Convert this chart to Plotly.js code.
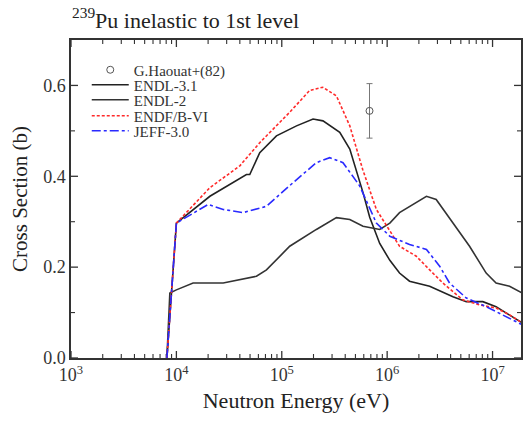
<!DOCTYPE html>
<html>
<head>
<meta charset="utf-8">
<script src="https://cdn.plot.ly/plotly-3.0.1.min.js"></script>
<style>
html,body{margin:0;padding:0;background:#fff;}
#chart{width:523px;height:425px;}
</style>
</head>
<body>
<div id="chart"></div>
<script>
// Experimental point
const expE = [6.8e5];
const expY = [0.544];
const expErr = [0.06];

// ENDL-3.1
const endl31E = [8.13e3, 1.0e4, 2.08e4, 3.45e4, 4.62e4, 4.97e4, 6.18e4, 8.9e4, 1.38e5, 1.98e5, 2.46e5, 3.55e5, 4.42e5, 5.9e5, 6.83e5, 8.5e5, 1.06e6, 1.31e6, 1.63e6, 2.53e6, 4.21e6, 5.64e6, 8.09e6, 1.08e7, 1.56e7, 1.92e7];
const endl31Y = [0, 0.297, 0.356, 0.386, 0.404, 0.404, 0.452, 0.489, 0.511, 0.526, 0.522, 0.497, 0.460, 0.364, 0.310, 0.252, 0.215, 0.187, 0.169, 0.158, 0.135, 0.124, 0.124, 0.113, 0.091, 0.077];

// ENDL-2
const endl2E = [8.13e3, 8.67e3, 1.0e4, 1.44e4, 2.78e4, 5.75e4, 7.16e4, 1.19e5, 2.13e5, 3.30e5, 4.42e5, 5.9e5, 8.5e5, 1.06e6, 1.31e6, 2.36e6, 2.92e6, 4.21e6, 6.05e6, 8.7e6, 1.08e7, 1.45e7, 1.92e7];
const endl2Y = [0, 0.143, 0.150, 0.165, 0.165, 0.180, 0.194, 0.246, 0.283, 0.309, 0.305, 0.290, 0.283, 0.297, 0.320, 0.356, 0.349, 0.297, 0.246, 0.187, 0.165, 0.158, 0.143];

// ENDF/B-VI
const endfE = [8.13e3, 1.0e4, 2.08e4, 4.0e4, 6.18e4, 1.19e5, 1.84e5, 2.45e5, 3.30e5, 4.42e5, 5.86e5, 7.9e5, 1.31e6, 1.89e6, 2.53e6, 3.38e6, 5.22e6, 7.53e6, 1.08e7, 1.45e7, 1.92e7];
const endfY = [0, 0.297, 0.375, 0.423, 0.474, 0.541, 0.589, 0.596, 0.577, 0.511, 0.415, 0.327, 0.246, 0.224, 0.194, 0.165, 0.128, 0.117, 0.110, 0.095, 0.077];

// JEFF-3.0
const jeffE = [8.13e3, 1.0e4, 2.0e4, 2.78e4, 4.3e4, 7.16e4, 1.28e5, 2.13e5, 2.85e5, 3.81e5, 5.48e5, 7.9e5, 1.06e6, 1.63e6, 2.36e6, 3.15e6, 3.91e6, 5.64e6, 8.7e6, 1.25e7, 1.92e7];
const jeffY = [0, 0.297, 0.338, 0.327, 0.320, 0.334, 0.386, 0.430, 0.441, 0.430, 0.379, 0.297, 0.268, 0.250, 0.239, 0.202, 0.165, 0.132, 0.113, 0.095, 0.073];

// ticks
const xMajor = [1e3, 1e4, 1e5, 1e6, 1e7];
const xMajorText = ['10<sup>3</sup>', '10<sup>4</sup>', '10<sup>5</sup>', '10<sup>6</sup>', '10<sup>7</sup>'];
const xMinor = [2e3,3e3,4e3,5e3,6e3,7e3,8e3,9e3,2e4,3e4,4e4,5e4,6e4,7e4,8e4,9e4,2e5,3e5,4e5,5e5,6e5,7e5,8e5,9e5,2e6,3e6,4e6,5e6,6e6,7e6,8e6,9e6];
const yMajor = [0, 0.2, 0.4, 0.6];
const yMajorText = ['0.0', '0.2', '0.4', '0.6'];
const yMinor = [0.1, 0.3, 0.5];

const serif = "'Liberation Serif', 'Times New Roman', 'DejaVu Serif', serif";
const axisColor = '#333';
const xRange = [3, 7.27], yRange = [0, 0.7];
const plotW = 450.5, plotH = 318;

// inside tick marks on all four sides, drawn as line segments through the axes' scales
function tickTrace(lenMajor, lenMinor, width, useMajor) {
  const xs = [], ys = [];
  const lenX = useMajor ? lenMajor : lenMinor;
  const dy = lenX * (yRange[1] - yRange[0]) / plotH;           // tick length in y units
  const dxLog = lenX * (xRange[1] - xRange[0]) / plotW;        // tick length in log10 x units
  (useMajor ? xMajor : xMinor).forEach(v => {
    xs.push(v, v, null, v, v, null);
    ys.push(yRange[0], yRange[0] + dy, null, yRange[1], yRange[1] - dy, null);
  });
  (useMajor ? yMajor : yMinor).forEach(v => {
    xs.push(Math.pow(10, xRange[0]), Math.pow(10, xRange[0] + dxLog), null,
            Math.pow(10, xRange[1]), Math.pow(10, xRange[1] - dxLog), null);
    ys.push(v, v, null, v, v, null);
  });
  return {x: xs, y: ys, mode: 'lines', type: 'scatter', showlegend: false, hoverinfo: 'skip',
          connectgaps: false, line: {color: axisColor, width: width}, cliponaxis: false};
}

const traces = [
  tickTrace(7, 4, 1.3, true),
  tickTrace(7, 4, 1.1, false),
  {x: expE, y: expY, name: 'G.Haouat+(82)', mode: 'markers', type: 'scatter', legend: 'legend',
   marker: {symbol: 'circle-open', size: 7, color: '#555', line: {width: 1, color: '#555'}},
   error_y: {type: 'data', array: expErr, visible: true, color: '#777', thickness: 1, width: 3}},
  {x: endl31E, y: endl31Y, name: 'ENDL-3.1', mode: 'lines', type: 'scatter', legend: 'legend2',
   line: {color: '#222', width: 1.6}},
  {x: endl2E, y: endl2Y, name: 'ENDL-2', mode: 'lines', type: 'scatter', legend: 'legend3',
   line: {color: '#333', width: 1.6}},
  {x: endfE, y: endfY, name: 'ENDF/B-VI', mode: 'lines', type: 'scatter', legend: 'legend4',
   line: {color: '#ff2a2a', width: 1.6, dash: '3px,2px'}},
  {x: jeffE, y: jeffY, name: 'JEFF-3.0', mode: 'lines', type: 'scatter', legend: 'legend5',
   line: {color: '#2a2aff', width: 1.6, dash: 'dashdot'}}
];

function leg(yc) {
  return {x: 0.035, y: (358 - yc) / 318, xanchor: 'left', yanchor: 'middle', bgcolor: 'rgba(0,0,0,0)',
          font: {family: serif, size: 15, color: '#333'}, itemwidth: 37};
}

const layout = {
  width: 523, height: 425,
  margin: {l: 71, r: 1.5, t: 40, b: 67},
  paper_bgcolor: '#fff', plot_bgcolor: '#fff',
  font: {family: serif, color: '#333'},
  title: {text: '<sup>239</sup>Pu inelastic to 1st level', x: 72/523, xanchor: 'left', y: 0.953, yanchor: 'middle',
          font: {family: serif, size: 22, color: '#222'}},
  showlegend: true,
  legend: leg(70), legend2: leg(85), legend3: leg(100), legend4: leg(116), legend5: leg(131),
  xaxis: {type: 'log', range: xRange, tickmode: 'array', tickvals: xMajor, ticktext: xMajorText,
          ticks: '', showline: true, linecolor: axisColor, linewidth: 1.5, mirror: true,
          showgrid: false, zeroline: false,
          tickfont: {family: serif, size: 18, color: '#333'},
          title: {text: 'Neutron Energy (eV)', font: {family: serif, size: 22, color: '#222'}, standoff: 8}},
  yaxis: {range: yRange, tickmode: 'array', tickvals: yMajor, ticktext: yMajorText,
          ticks: '', showline: true, linecolor: axisColor, linewidth: 1.5, mirror: true,
          showgrid: false, zeroline: false,
          tickfont: {family: serif, size: 18, color: '#333'},
          title: {text: 'Cross Section (b)', font: {family: serif, size: 21, color: '#222'}, standoff: 10}}
};

Plotly.newPlot('chart', traces, layout, {displayModeBar: false});
</script>
</body>
</html>
